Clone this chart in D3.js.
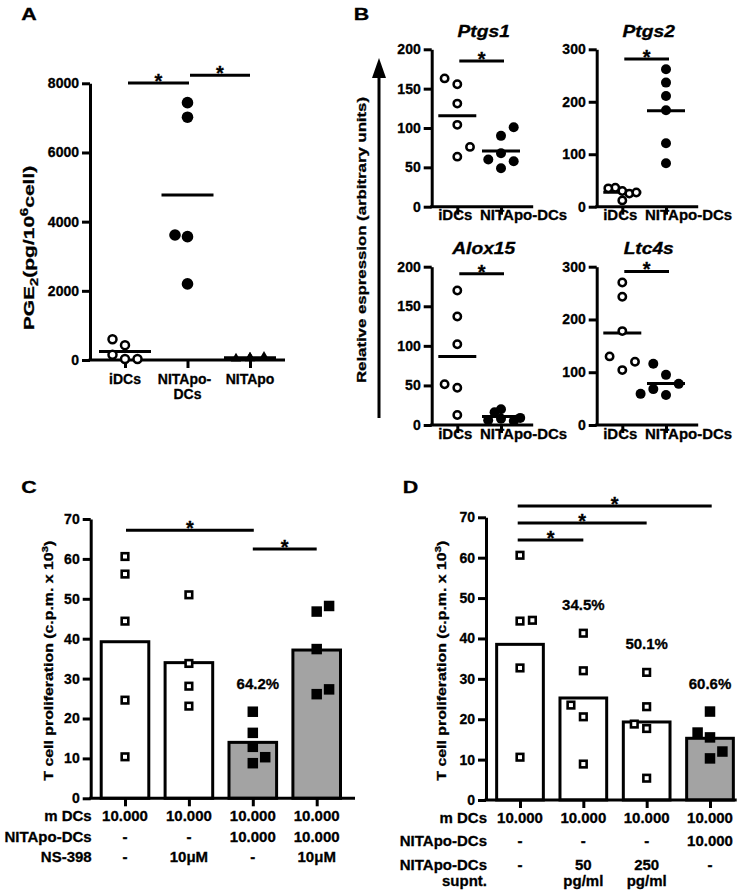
<!DOCTYPE html>
<html><head><meta charset="utf-8">
<script src="https://cdn.jsdelivr.net/npm/d3@7"></script>
<style>body{margin:0;background:#fff}svg{display:block}</style>
</head><body><svg id="c" width="750" height="892"></svg>
<script>
// ---------------- DATA ----------------
// Panel A : PGE2 (pg/10^6 cell)
const catsA = ["iDCs", "NITApo-DCs", "NITApo"];
const catLabelsA = [["iDCs"], ["NITApo-", "DCs"], ["NITApo"]];
const ticksA = [0, 2000, 4000, 6000, 8000];
const pgeIDCs = [430, 600, 30, 150, 30];
const pgeNITApoDCs = [7440, 7020, 3566, 3614, 2200];
const pgeNITApo = [60, 40, 90, 70, 50];

// Panel B : relative expression
const catsB = ["iDCs", "NITApo-DCs"];
const genesB = ["Ptgs1", "Ptgs2", "Alox15", "Ltc4s"];
const ptgs1IDCs = [155.6, 163, 131, 63.6, 76, 104];
const ptgs1NIT = [90, 68, 101, 60, 57.7, 48.8];
const ptgs2IDCs = [30, 36, 25, 35, 27, 12];
const ptgs2NIT = [262, 236.5, 211, 184, 121, 82.7];
const alox15IDCs = [170, 137, 102, 47, 12.6, 51.5];
const alox15NIT = [20, 16, 8, 6, 5, 9];
const ltc4sIDCs = [270, 243, 178, 104, 120, 130];
const ltc4sNIT = [95, 116, 78, 57, 68, 59];
const ticks200 = [0, 50, 100, 150, 200];
const ticks300 = [0, 100, 200, 300];

// Panel C : T cell proliferation (c.p.m. x 10^3)
const catsC = ["c1", "c2", "c3", "c4"];
const ticks70 = [0, 10, 20, 30, 40, 50, 60, 70];
const cG1 = [60.6, 56.2, 44.4, 24.6, 10.4];
const cG2 = [51, 33.8, 28.1, 23.1];
const cG3 = [21.7, 16.4, 12.9, 8.8, 10.3];
const cG4 = [46.8, 37.4, 48.2, 26.1, 27.3];
const pctC = ["", "", "64.2%", ""];
const rowLabelsC = ["m DCs", "NITApo-DCs", "NS-398"];
const rowMDCsC = ["10.000", "10.000", "10.000", "10.000"];
const rowNITC = ["-", "-", "10.000", "10.000"];
const rowNSC = ["-", "10\u03bcM", "-", "10\u03bcM"];

// Panel D
const catsD = ["d1", "d2", "d3", "d4"];
const dG1 = [60.6, 44.3, 44.5, 32.7, 10.6];
const dG2 = [41.3, 32, 20.6, 23.5, 8.9];
const dG3 = [31.6, 23.1, 17.7, 18.8, 5.4];
const dG4 = [21.9, 15.5, 10.3, 16.7, 12];
const pctD = ["", "34.5%", "50.1%", "60.6%"];
const rowLabelsD = ["m DCs", "NITApo-DCs", "NITApo-DCs", "supnt."];
const rowMDCsD = ["10.000", "10.000", "10.000", "10.000"];
const rowNITD = ["-", "-", "-", "10.000"];
const rowSupD = ["-", "50", "250", "-"];
const rowSupUnitD = ["", "pg/ml", "pg/ml", ""];

// ---------------- DRAW ----------------
const F = "'Liberation Sans', Arial, Helvetica, sans-serif";
const GRAY = "#a3a3a3";
const TS = 0.3; // text stroke to mimic heavy print
const svg = d3.select("#c");
svg.append("rect").attr("width", 750).attr("height", 892).attr("fill", "#fff");

function label(g, x, y, s, size, opt = {}) {
  const t = g.append("text")
    .attr("transform", `translate(${x},${y})` + (opt.rot ? ` rotate(${opt.rot})` : "") + (opt.sx ? ` scale(${opt.sx},1)` : ""))
    .attr("text-anchor", opt.anchor || "middle")
    .attr("font-family", F).attr("font-weight", "bold").attr("font-size", size)
    .attr("font-style", opt.italic ? "italic" : "normal").attr("fill", "#000")
    .attr("stroke", "#000").attr("stroke-width", TS);
  if (s !== null) t.text(s);
  return t;
}
function yAxis(g, y, x, ticks) {
  const ax = g.append("g").attr("transform", `translate(${x},0)`)
    .call(d3.axisLeft(y).tickValues(ticks).tickFormat(d3.format("d")).tickSize(8).tickSizeOuter(0).tickPadding(3));
  ax.attr("font-family", F).attr("font-size", 14).attr("font-weight", "bold");
  ax.select(".domain").attr("stroke", "#000").attr("stroke-width", 3);
  ax.selectAll(".tick line").attr("stroke", "#000").attr("stroke-width", 3);
  ax.selectAll(".tick text").attr("fill", "#000").attr("stroke", "#000").attr("stroke-width", TS);
}
function xAxis(g, xs, y0, x0, x1) {
  const ax = g.append("g").attr("transform", `translate(0,${y0})`)
    .call(d3.axisBottom(xs).tickSize(8).tickFormat(""));
  ax.select(".domain").remove();
  ax.selectAll(".tick line").attr("stroke", "#000").attr("stroke-width", 3);
  g.append("line").attr("x1", x0 - 1.5).attr("x2", x1).attr("y1", y0).attr("y2", y0)
    .attr("stroke", "#000").attr("stroke-width", 3);
}
function hline(g, x1, x2, y, w = 3) {
  g.append("line").attr("x1", x1).attr("x2", x2).attr("y1", y).attr("y2", y)
    .attr("stroke", "#000").attr("stroke-width", w);
}
function sig(g, x1, x2, y) {
  hline(g, x1, x2, y);
  label(g, (x1 + x2) / 2, y + 5, "*", 20);
}
function swarm(vals, y, cx, step, D, square) {
  const placed = [];
  return vals.map((v, i) => {
    const py = y(v);
    const pref = i % 2 === 0 ? 1 : -1;
    const offs = [0];
    for (let k = 1; k <= 3; k++) offs.push(pref * k * step, -pref * k * step);
    for (const o of offs) {
      const px = cx + o;
      const hit = placed.some(p => square ? (Math.abs(p.x - px) < D && Math.abs(p.y - py) < D)
                                          : Math.hypot(p.x - px, p.y - py) < D);
      if (!hit) { const r = { x: px, y: py, v }; placed.push(r); return r; }
    }
    const r = { x: cx, y: py, v }; placed.push(r); return r;
  });
}
function circles(g, pts, r, open) {
  g.selectAll(null).data(pts).enter().append("circle")
    .attr("cx", d => d.x).attr("cy", d => d.y).attr("r", r)
    .attr("fill", open ? "#fff" : "#000").attr("stroke", "#000").attr("stroke-width", open ? 2.5 : 0);
}
function squares(g, pts, s, open) {
  g.selectAll(null).data(pts).enter().append("rect")
    .attr("x", d => d.x - s / 2).attr("y", d => d.y - s / 2).attr("width", s).attr("height", s)
    .attr("fill", open ? "#fff" : "#000").attr("stroke", "#000").attr("stroke-width", open ? 2.6 : 0);
}

// ===== Panel A =====
{
  const g = svg.append("g");
  const y = d3.scaleLinear().domain([0, 8000]).range([360, 83.3]);
  const x = d3.scalePoint().domain(catsA).range([125, 250]);
  label(g, 29, 20, "A", 16.5, { sx: 1.3 });
  yAxis(g, y, 90, ticksA);
  xAxis(g, x, 360, 90, 285);
  catsA.forEach((c, i) => catLabelsA[i].forEach((s, j) => label(g, x(c) - (j === 0 && i === 1 ? 3 : 0), 384 + j * 15, s, 14)));
  const yl = label(g, 34, 248, null, 15, { rot: -90, sx: 1.4 });
  yl.append("tspan").text("PGE");
  yl.append("tspan").attr("dy", 4).attr("font-size", 10.5).text("2");
  yl.append("tspan").attr("dy", -4).text("(pg/10");
  yl.append("tspan").attr("dy", -6).attr("font-size", 10.5).text("6");
  yl.append("tspan").attr("dy", 6).text("cell)");
  const groups = [pgeIDCs, pgeNITApoDCs, pgeNITApo];
  groups.forEach((vals, i) => hline(g, x(catsA[i]) - 26, x(catsA[i]) + 26, y(d3.mean(vals))));
  circles(g, swarm(pgeIDCs, y, x(catsA[0]), 12.5, 12, false), 4, true);
  circles(g, swarm(pgeNITApoDCs, y, x(catsA[1]), 12.5, 12, false), 5.8, false);
  const tri = swarm(pgeNITApo, y, x(catsA[2]), 7, 8, false);
  g.selectAll(null).data(tri).enter().append("path")
    .attr("transform", d => `translate(${d.x},${d.y})`)
    .attr("d", d3.symbol(d3.symbolTriangle, 45)).attr("fill", "#000");
  sig(g, x(catsA[0]) + 3, x(catsA[1]) + 1.5, y(8010));
  sig(g, x(catsA[1]) + 2.5, x(catsA[2]), y(8230));
}

// ===== Panel B =====
{
  const g = svg.append("g");
  label(g, 361.5, 20, "B", 16.5, { sx: 1.3 });
  // vertical arrow
  g.append("line").attr("x1", 379).attr("x2", 379).attr("y1", 74).attr("y2", 418).attr("stroke", "#000").attr("stroke-width", 3);
  g.append("path").attr("d", "M379,58 L372,78 L386,78 Z").attr("fill", "#000");
  label(g, 365.6, 240, "Relative espression (arbitrary units)", 13, { rot: -90, sx: 1.29 });
  const cfg = [
    { a: ptgs1IDCs, b: ptgs1NIT, max: 200, ticks: ticks200, ax: 431.7, y0: 206.7, y1: 49.3, sv: 185, sa: [12.7, 13], sb: [12.7, 13] },
    { a: ptgs2IDCs, b: ptgs2NIT, max: 300, ticks: ticks300, ax: 596.7, y0: 206.7, y1: 49.3, sv: 281.6, sa: [7, 7], sb: [12.7, 13] },
    { a: alox15IDCs, b: alox15NIT, max: 200, ticks: ticks200, ax: 431.7, y0: 425, y1: 266.7, sv: 191, sa: [12.7, 13], sb: [6.4, 7] },
    { a: ltc4sIDCs, b: ltc4sNIT, max: 300, ticks: ticks300, ax: 596.7, y0: 425, y1: 266.7, sv: 291, sa: [12.7, 14], sb: [12.7, 12] }
  ];
  cfg.forEach((c, k) => {
    const y = d3.scaleLinear().domain([0, c.max]).range([c.y0, c.y1]);
    const x = d3.scalePoint().domain(catsB).range([c.ax + 25.6, c.ax + 69.3]);
    label(g, c.ax + 52, c.y1 - 12.3, genesB[k], 16, { italic: true, sx: 1.2 });
    yAxis(g, y, c.ax, c.ticks);
    xAxis(g, x, c.y0, c.ax, c.ax + 101.5);
    label(g, x(catsB[0]) - 2, c.y0 + 13.5, catsB[0], 15);
    label(g, x(catsB[1]) - 21, c.y0 + 13.5, catsB[1], 15, { anchor: "start" });
    [c.a, c.b].forEach((vals, i) => hline(g, x(catsB[i]) - 19, x(catsB[i]) + 19, y(d3.mean(vals))));
    circles(g, swarm(c.a, y, x(catsB[0]), c.sa[0], c.sa[1], false), 3.7, true);
    circles(g, swarm(c.b, y, x(catsB[1]), c.sb[0], c.sb[1], false), 5, false);
    sig(g, x(catsB[0]) + 2, x(catsB[1]) + 3, y(c.sv));
  });
}

// ===== Panels C & D =====
function barPanel(o) {
  const g = svg.append("g");
  const y = d3.scaleLinear().domain([0, 70]).range([o.y0, o.y70]);
  const x = d3.scalePoint().domain(o.cats).range(o.xr);
  const bw = o.bw;
  label(g, o.letterX, o.letterY, o.letter, 16.5, { sx: 1.3 });
  o.groups.forEach((vals, i) => {
    const m = d3.mean(vals);
    g.append("rect").attr("x", x(o.cats[i]) - bw / 2).attr("y", y(m))
      .attr("width", bw).attr("height", y(0) - y(m))
      .attr("fill", o.filled[i] ? GRAY : "#fff").attr("stroke", "#000").attr("stroke-width", 3);
  });
  xAxis(g, x, o.y0, o.ax, o.xEnd);
  yAxis(g, y, o.ax, ticks70);
  o.groups.forEach((vals, i) => {
    squares(g, swarm(vals, y, x(o.cats[i]), 12.4, 12, true), o.filled[i] ? 10.5 : 6.6, !o.filled[i]);
    if (o.pct[i]) label(g, x(o.cats[i]) + o.pctDx, y(d3.max(vals)) - 23, o.pct[i], 15);
  });
  o.sigs.forEach(s => sig(g, x(o.cats[s[0]]) + s[3], x(o.cats[s[1]]) + s[4], y(s[2])));
  const yl = label(g, o.ylX, (o.y0 + o.y70) / 2 + 2, null, 13, { rot: -90, sx: 1.22 });
  yl.append("tspan").text("T cell proliferation  (c.p.m. x 10");
  yl.append("tspan").attr("dy", -5).attr("font-size", 9.5).text("3");
  yl.append("tspan").attr("dy", 5).text(")");
  // table
  o.rows.forEach(r => {
    label(g, o.ax + 1, r.y, r.label, 15, { anchor: "end" });
    if (r.vals) r.vals.forEach((s, i) => { if (s) label(g, x(o.cats[i]), r.y, s, 15); });
  });
  return g;
}
barPanel({
  letter: "C", letterX: 29, letterY: 493, cats: catsC, y0: 798.3, y70: 519, xr: [125, 316.7], bw: 47.6,
  ax: 90.7, xEnd: 355, groups: [cG1, cG2, cG3, cG4], filled: [false, false, true, true],
  pct: pctC, pctDx: 5, ylX: 53.3,
  sigs: [[0, 2, 67.2, 1, 1], [2, 3, 62.5, 0, 0]],
  rows: [
    { label: rowLabelsC[0], vals: rowMDCsC, y: 821 },
    { label: rowLabelsC[1], vals: rowNITC, y: 841.5 },
    { label: rowLabelsC[2], vals: rowNSC, y: 861.5 }
  ]
});
barPanel({
  letter: "D", letterX: 410.5, letterY: 492.7, cats: catsD, y0: 800, y70: 517.3, xr: [520, 710], bw: 46.7,
  ax: 486, xEnd: 736.7, groups: [dG1, dG2, dG3, dG4], filled: [false, false, false, true],
  pct: pctD, pctDx: 0, ylX: 445.6,
  sigs: [[0, 1, 64.4, -2.3, 0], [0, 2, 68.6, -2.3, 0], [0, 3, 72.8, -2.3, 1.7]],
  rows: [
    { label: rowLabelsD[0], vals: rowMDCsD, y: 823 },
    { label: rowLabelsD[1], vals: rowNITD, y: 846 },
    { label: rowLabelsD[2], vals: rowSupD, y: 869.5 },
    { label: rowLabelsD[3], vals: rowSupUnitD, y: 886 }
  ]
});
</script></body></html>
